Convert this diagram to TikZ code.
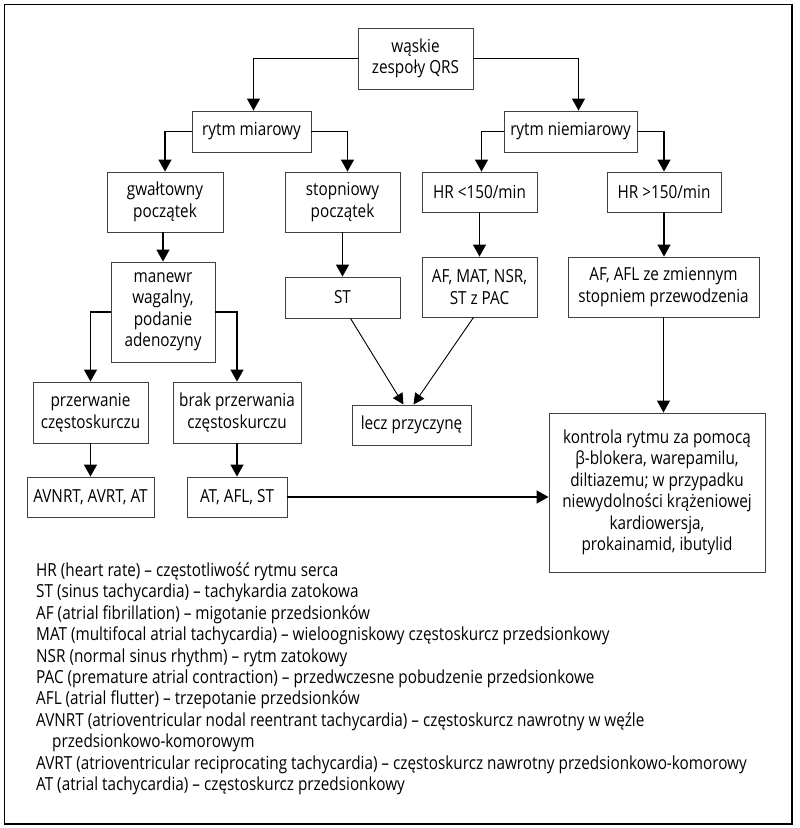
\documentclass[tikz,border=0pt]{standalone}
\usepackage{fontspec}
\setmainfont[FakeStretch=0.85]{Open Sans}
\usetikzlibrary{arrows.meta}

\begin{document}
\begin{tikzpicture}[x=1pt, y=-1pt,
        font=\fontsize{18}{21.5}\selectfont,
        box/.style={draw=black!75, line width=0.9pt, align=center, inner sep=0pt},
        strzalka/.style={-{Triangle[width=13pt,length=12pt]}, line width=1.4pt},
        skos/.style={-{Triangle[width=11pt,length=11pt]}, line width=0.9pt}]
    \useasboundingbox (0,0) rectangle (800,828);
    \draw[line width=1.4pt] (4.5,4.5) rectangle (792,824);

    % Poziom 1 i 2
    \node[box, minimum width=115pt, minimum height=61pt] (QRS) at (415.5,58.5) {wąskie\\zespoły QRS};
    \node[box, minimum width=119pt, minimum height=41pt] (MIAR) at (251.5,131.5) {rytm miarowy};
    \node[box, minimum width=133pt, minimum height=41pt] (NIEMIAR) at (570.5,131.5) {rytm niemiarowy};

    % Poziom 3
    \node[box, minimum width=116pt, minimum height=60pt] (GWALT) at (165,202) {gwałtowny\\początek};
    \node[box, minimum width=115pt, minimum height=60pt] (STOPN) at (342.5,202) {stopniowy\\początek};
    \node[box, minimum width=115pt, minimum height=40pt] (HRLT) at (479.5,192) {HR <150/min};
    \node[box, minimum width=114pt, minimum height=40pt] (HRGT) at (664,192) {HR >150/min};

    % Poziom 4
    \node[box, minimum width=104pt, minimum height=100pt] (MANEWR) at (163,312) {manewr\\wagalny,\\podanie\\adenozyny};
    \node[box, minimum width=115pt, minimum height=41pt] (ST) at (342.5,297.5) {ST};
    \node[box, minimum width=115pt, minimum height=60pt] (AFMAT) at (479.5,287) {AF, MAT, NSR,\\ST z PAC};
    \node[box, minimum width=191pt, minimum height=60pt] (AFAFL) at (663.5,287) {AF, AFL ze zmiennym\\stopniem przewodzenia};

    % Poziom 5 i 6
    \node[box, minimum width=115pt, minimum height=61pt] (PRZERW) at (90.5,412.5) {przerwanie\\częstoskurczu};
    \node[box, minimum width=128pt, minimum height=61pt] (BRAK) at (237,412.5) {brak przerwania\\częstoskurczu};
    \node[box, minimum width=119pt, minimum height=40pt] (LECZ) at (411.5,425) {lecz przyczynę};
    \node[box, minimum width=216pt, minimum height=159pt] (KONTR) at (657,492.5)
        {kontrola rytmu za pomocą\\β-blokera, warepamilu,\\diltiazemu; w przypadku\\niewydolności krążeniowej\\kardiowersja,\\prokainamid, ibutylid};
    \node[box, minimum width=127pt, minimum height=40pt] (AVNRT) at (90.5,497) {AVNRT, AVRT, AT};
    \node[box, minimum width=100pt, minimum height=40pt] (ATAFL) at (237,497) {AT, AFL, ST};

    % Strzalki
    \draw[strzalka] (QRS.west) -| ([xshift=2pt]MIAR.north);
    \draw[strzalka] (QRS.east) -| ([xshift=8pt]NIEMIAR.north);
    \draw[strzalka] (MIAR.west) -| (GWALT.north);
    \draw[strzalka] (MIAR.east) -| ([xshift=5pt]STOPN.north);
    \draw[strzalka] (NIEMIAR.west) -| ([xshift=2pt]HRLT.north);
    \draw[strzalka] (NIEMIAR.east) -| (HRGT.north);
    \draw[strzalka] ([xshift=-2pt]GWALT.south) -- ([xshift=-2pt]GWALT.south |- MANEWR.north);
    \draw[strzalka] (STOPN.south) -- (ST.north);
    \draw[strzalka] (HRLT.south) -- (AFMAT.north);
    \draw[strzalka] (HRGT.south) -- (HRGT.south |- AFAFL.north);
    \draw[strzalka] (MANEWR.west) -| (PRZERW.north);
    \draw[strzalka] (MANEWR.east) -| (BRAK.north);
    \draw[strzalka] (PRZERW.south) -- (AVNRT.north);
    \draw[strzalka] (BRAK.south) -- (ATAFL.north);
    \draw[strzalka, line width=1pt] (AFAFL.south) -- (AFAFL.south |- KONTR.north);
    \draw[strzalka] (ATAFL.east) -- (ATAFL.east -| KONTR.west);
    \draw[skos] ([xshift=8pt]ST.south) -- ([xshift=-8pt]LECZ.north);
    \draw[skos] ([xshift=-6pt]AFMAT.south) -- ([xshift=2pt]LECZ.north);

    % Legenda
    \node[anchor=north west, align=left, inner sep=0pt] (LEGENDA) at (36,562) {%
        HR (heart rate) – częstotliwość rytmu serca\\
        ST (sinus tachycardia) – tachykardia zatokowa\\
        AF (atrial fibrillation) – migotanie przedsionków\\
        MAT (multifocal atrial tachycardia) – wieloogniskowy częstoskurcz przedsionkowy\\
        NSR (normal sinus rhythm) – rytm zatokowy\\
        PAC (premature atrial contraction) – przedwczesne pobudzenie przedsionkowe\\
        AFL (atrial flutter) – trzepotanie przedsionków\\
        AVNRT (atrioventricular nodal reentrant tachycardia) – częstoskurcz nawrotny w węźle\\
        \hspace*{16pt}przedsionkowo-komorowym\\
        AVRT (atrioventricular reciprocating tachycardia) – częstoskurcz nawrotny przedsionkowo-komorowy\\
        AT (atrial tachycardia) – częstoskurcz przedsionkowy};
\end{tikzpicture}
\end{document}
